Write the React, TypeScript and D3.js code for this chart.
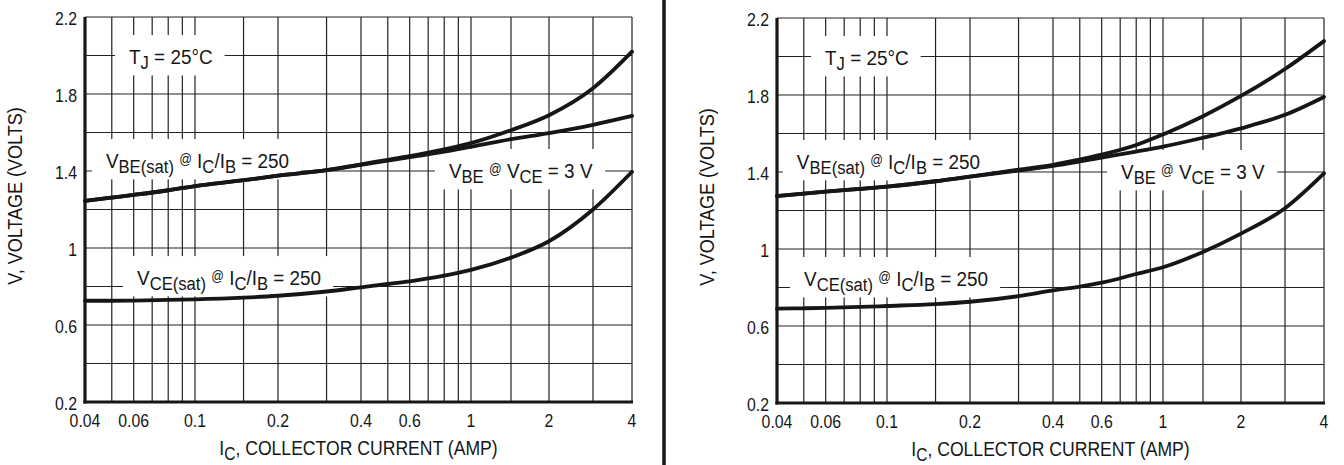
import React, { useEffect, useRef } from 'react';
import * as d3 from 'd3';

// ---------- data ----------
const currents = [0.04, 0.05, 0.06, 0.08, 0.1, 0.15, 0.2, 0.3, 0.4, 0.5, 0.6, 0.8, 1, 1.5, 2, 3, 4];

const leftVbeSat = [1.245, 1.262, 1.276, 1.3, 1.322, 1.352, 1.376, 1.405, 1.435, 1.458, 1.477, 1.512, 1.545, 1.612, 1.69, 1.83, 2.02];
const leftVbeOn = [1.245, 1.262, 1.276, 1.3, 1.322, 1.352, 1.376, 1.404, 1.432, 1.454, 1.472, 1.5, 1.526, 1.565, 1.597, 1.64, 1.686];
const leftVceSat = [0.726, 0.726, 0.727, 0.73, 0.733, 0.742, 0.752, 0.774, 0.796, 0.813, 0.827, 0.856, 0.886, 0.95, 1.035, 1.2, 1.396];

const rightVbeSat = [1.275, 1.288, 1.298, 1.312, 1.324, 1.352, 1.376, 1.412, 1.437, 1.465, 1.49, 1.54, 1.595, 1.69, 1.795, 1.935, 2.08];
const rightVbeOn = [1.275, 1.288, 1.298, 1.312, 1.324, 1.352, 1.376, 1.408, 1.432, 1.455, 1.475, 1.506, 1.532, 1.578, 1.627, 1.697, 1.79];
const rightVceSat = [0.69, 0.692, 0.694, 0.699, 0.704, 0.714, 0.726, 0.755, 0.785, 0.805, 0.825, 0.87, 0.905, 0.985, 1.08, 1.212, 1.393];

const yGridValues = [0.2, 0.4, 0.6, 0.8, 1, 1.2, 1.4, 1.6, 1.8, 2, 2.2];
const yTickLabels = ['2.2', '1.8', '1.4', '1', '0.6', '0.2'];
const xGridValues = [0.04, 0.05, 0.06, 0.07, 0.08, 0.09, 0.1, 0.15, 0.2, 0.3, 0.4, 0.5, 0.6, 0.7, 0.8, 0.9, 1, 1.5, 2, 3, 4];
const xTickLabels = ['0.04', '0.06', '0.1', '0.2', '0.4', '0.6', '1', '2', '4'];

// axis breakpoints of the (hand-drawn) log grid
const xBreaks = [0.04, 0.1, 0.2, 0.4, 1, 1.5, 2, 3, 4];

type Part = [string, ('sub' | 'sup')?];
const labelTj: Part[] = [['T'], ['J', 'sub'], [' = 25°C']];
const labelVbeSat: Part[] = [['V'], ['BE(sat)', 'sub'], [' '], ['@', 'sup'], [' I'], ['C', 'sub'], ['/I'], ['B', 'sub'], [' = 250']];
const labelVceSat: Part[] = [['V'], ['CE(sat)', 'sub'], [' '], ['@', 'sup'], [' I'], ['C', 'sub'], ['/I'], ['B', 'sub'], [' = 250']];
const labelVbeOn: Part[] = [['V'], ['BE', 'sub'], [' '], ['@', 'sup'], [' V'], ['CE', 'sub'], [' = 3 V']];
const xTitle: Part[] = [['I'], ['C', 'sub'], [', COLLECTOR CURRENT (AMP)']];
const yTitle = 'V, VOLTAGE (VOLTS)';

// label anchors (current, voltage) of text start / baseline
const labelVolts = [1.956, 1.416, 0.808, 1.364];
const leftLabelCurrents = [0.0577, 0.0476, 0.0617, 0.832];
const rightLabelCurrents = [0.0597, 0.0472, 0.0501, 0.705];

// ---------- layout ----------
const FONT = '"Liberation Sans", Arial, Helvetica, sans-serif';
const PLOT_W = 547;
const PLOT_H = 385;
const xBreakOffsets = [0, 110, 193, 276, 386, 426, 464, 508, 547];
const INK = '#161616';

function addRich(sel: any, parts: Part[], size: number) {
  let off = 0;
  parts.forEach(([t, kind]) => {
    const target = kind === 'sub' ? size * 0.25 : kind === 'sup' ? -size * 0.2 : 0;
    const fs = kind === 'sub' ? size * 0.88 : kind === 'sup' ? size * 0.66 : size;
    sel.append('tspan').attr('dy', target - off).attr('font-size', fs).text(t);
    off = target;
  });
}

// condensed-looking text: horizontally squeezed group
function cText(parent: any, x: number, y: number, sx: number, size: number, anchor = 'start') {
  const g = parent.append('g').attr('transform', `translate(${x},${y}) scale(${sx},1)`);
  const t = g.append('text').attr('x', 0).attr('y', 0)
    .attr('font-family', FONT).attr('font-size', size).attr('fill', INK)
    .attr('text-anchor', anchor).style('white-space', 'pre');
  return t;
}

interface ChartCfg {
  x0: number;
  y0: number;
  vbeSat: number[];
  vbeOn: number[];
  vceSat: number[];
  labelCurrents: number[];
}

function drawChart(g: any, c: ChartCfg) {
  const x = d3.scaleLog().domain(xBreaks).range(xBreakOffsets.map((o) => c.x0 + o));
  const y = d3.scaleLinear().domain([0.2, 2.2]).range([c.y0 + PLOT_H, c.y0]);
  const x1 = c.x0 + PLOT_W;
  const yb = c.y0 + PLOT_H;

  const grid = g.append('g').attr('stroke', '#222').attr('stroke-width', 1.2);
  grid.selectAll('line.v').data(xGridValues).join('line').attr('class', 'v')
    .attr('x1', (d: number) => x(d)).attr('x2', (d: number) => x(d))
    .attr('y1', c.y0).attr('y2', yb);
  grid.selectAll('line.h').data(yGridValues).join('line').attr('class', 'h')
    .attr('x1', c.x0).attr('x2', x1)
    .attr('y1', (d: number) => y(d)).attr('y2', (d: number) => y(d));

  const boxLayer = g.append('g');
  const curveLayer = g.append('g');
  const textLayer = g.append('g');

  const line = d3.line<number>()
    .x((_, i) => x(currents[i]))
    .y((d) => y(d))
    .curve(d3.curveMonotoneX);
  [c.vbeSat, c.vbeOn, c.vceSat].forEach((s) => {
    curveLayer.append('path').attr('d', line(s)).attr('fill', 'none')
      .attr('stroke', INK).attr('stroke-width', 3.8).attr('stroke-linecap', 'round');
  });

  const SX = 0.9;
  const labels = [labelTj, labelVbeSat, labelVceSat, labelVbeOn];
  labels.forEach((parts, i) => {
    const lx = x(c.labelCurrents[i]);
    const ly = y(labelVolts[i]);
    const t = cText(textLayer, lx, ly, SX, 21);
    addRich(t, parts, 21);
    const bb = (t.node() as SVGTextElement).getBBox();
    boxLayer.append('rect')
      .attr('x', lx + bb.x * SX - 14).attr('y', ly + bb.y - 10)
      .attr('width', bb.width * SX + 26).attr('height', bb.height + 12)
      .attr('fill', '#fff');
  });

  // axes (thick left & bottom)
  g.append('line').attr('x1', c.x0).attr('x2', c.x0).attr('y1', c.y0).attr('y2', yb + 1.5)
    .attr('stroke', INK).attr('stroke-width', 3.2);
  g.append('line').attr('x1', c.x0 - 1.5).attr('x2', x1 + 1).attr('y1', yb).attr('y2', yb)
    .attr('stroke', INK).attr('stroke-width', 3.2);

  // tick labels
  yTickLabels.forEach((d) => {
    cText(g, c.x0 - 8, y(+d) + 7.5, 0.88, 18, 'end').text(d);
  });
  xTickLabels.forEach((d) => {
    cText(g, x(+d), yb + 25, 0.88, 18, 'middle').text(d);
  });

  // axis titles
  const xt = cText(g, (c.x0 + x1) / 2, yb + 53, 0.88, 20, 'middle');
  addRich(xt, xTitle, 20);
  g.append('g')
    .attr('transform', `translate(${c.x0 - 63},${c.y0 + 179}) rotate(-90) scale(0.9,1)`)
    .append('text')
    .attr('text-anchor', 'middle').attr('font-family', FONT).attr('font-size', 20).attr('fill', INK)
    .text(yTitle);
}

const charts: ChartCfg[] = [
  { x0: 85, y0: 17, vbeSat: leftVbeSat, vbeOn: leftVbeOn, vceSat: leftVceSat, labelCurrents: leftLabelCurrents },
  { x0: 777, y0: 18, vbeSat: rightVbeSat, vbeOn: rightVbeOn, vceSat: rightVceSat, labelCurrents: rightLabelCurrents },
];

export default function App() {
  const ref = useRef<SVGSVGElement>(null);
  useEffect(() => {
    const svg = d3.select(ref.current);
    svg.selectAll('*').remove();
    svg.append('rect').attr('width', 1344).attr('height', 465).attr('fill', '#fff');
    charts.forEach((c) => drawChart(svg.append('g'), c));
    svg.append('line').attr('x1', 664).attr('x2', 664).attr('y1', 0).attr('y2', 465)
      .attr('stroke', INK).attr('stroke-width', 3.5);
  }, []);
  return (
    <svg ref={ref} width={1344} height={465}
      style={{ position: 'absolute', left: 0, top: 0, display: 'block' }} />
  );
}
